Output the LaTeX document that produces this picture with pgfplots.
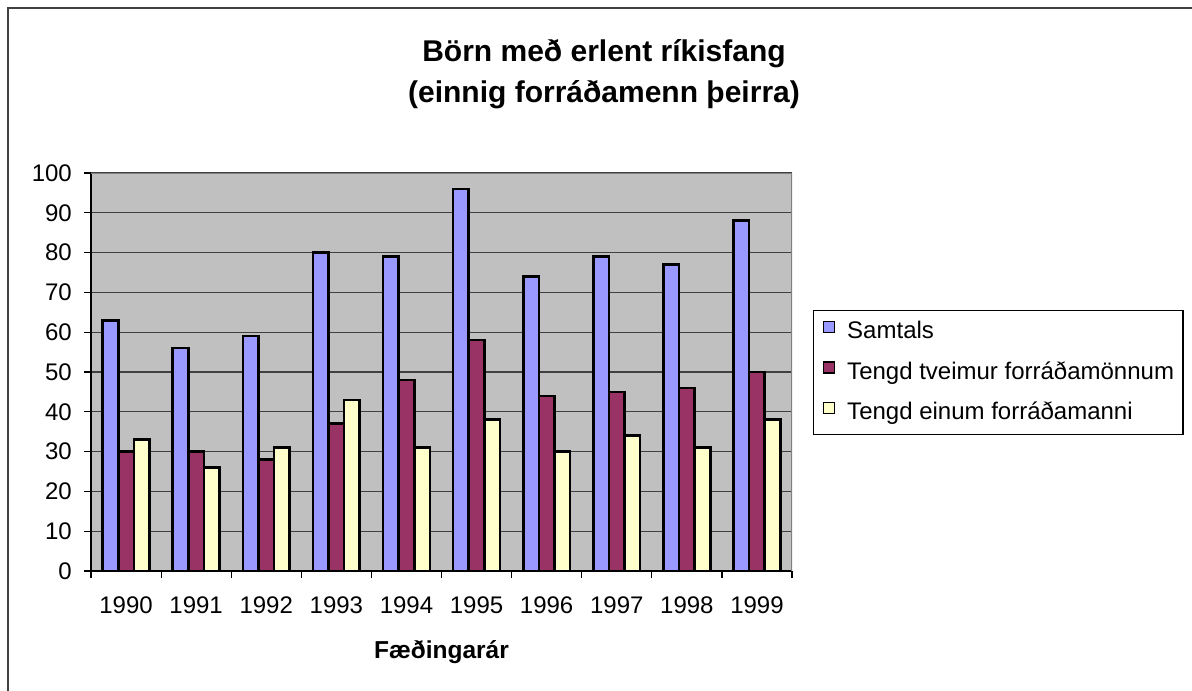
\documentclass[border=0pt]{standalone}
\usepackage{fontspec}
\setmainfont{Liberation Sans}
\usepackage{pgfplots}
\pgfplotsset{compat=1.18}
\definecolor{plotbg}{RGB}{192,192,192}
\definecolor{cA}{RGB}{153,153,255}
\definecolor{cB}{RGB}{153,51,102}
\definecolor{cC}{RGB}{255,255,204}
\newcommand\ticksfont{\fontsize{24}{28}\selectfont}
\begin{document}
\begin{tikzpicture}
\useasboundingbox (0,0) rectangle (1192pt,-691pt);
\fill[white] (0,0) rectangle (1192pt,-691pt);
\draw[line width=1.5pt, black!75] (8pt,-700pt) -- (8pt,-8pt) -- (1200pt,-8pt);
\node[font=\bfseries\fontsize{30}{34}\selectfont, anchor=base, inner sep=0pt] at (604pt,-61pt) {Börn með erlent ríkisfang};
\node[font=\bfseries\fontsize{30}{34}\selectfont, anchor=base, inner sep=0pt] at (604pt,-102pt) {(einnig forráðamenn þeirra)};
\begin{axis}[
  at={(91pt,-571pt)}, anchor=south west,
  width=701pt, height=398pt, scale only axis,
  xmin=-0.5, xmax=9.5, ymin=0, ymax=100,
  ybar=0pt, bar width=15.6pt,
  axis background/.style={fill=plotbg},
  ymajorgrids, grid style={line width=1.2pt, color=black!75},
  ytick={0,10,...,100},
  xtick={0,1,2,3,4,5,6,7,8,9},
  xticklabels={1990,1991,1992,1993,1994,1995,1996,1997,1998,1999},
  minor xtick={-0.5,0.5,1.5,2.5,3.5,4.5,5.5,6.5,7.5,8.5,9.5},
  major x tick style={draw=none},
  tick align=outside, major tick length=7pt, minor tick length=7pt,
  tick style={black, line width=1.2pt},
  axis x line*=bottom, axis y line*=left,
  axis line style={-, black, line width=1.2pt},
  /pgf/number format/assume math mode=true,
  ticklabel style={font=\ticksfont, inner sep=0pt},
  yticklabel style={anchor=east, xshift=-12pt},
  xticklabel style={anchor=north, yshift=-19pt},
  xlabel={Fæðingarár},
  xlabel style={font=\bfseries\fontsize{24.5}{28}\selectfont, at={(rel axis cs:0.5,0)}, anchor=base, yshift=-87pt, inner sep=0pt},
  legend style={at={(axis description cs:1.03,0.6558)}, anchor=north west,
    draw=black, line width=1.2pt, fill=white, font=\ticksfont,
    inner xsep=9pt, inner ysep=10pt, row sep=17.5pt,
    nodes={text height=17.5pt, text depth=5pt, inner sep=0pt},
    /tikz/every odd column/.append style={column sep=12pt}},
  legend cell align=left,
  legend image code/.code={\draw[#1, line width=1.6pt] (0pt,0pt) rectangle (11pt,11pt);},
]
\addplot[fill=cA, draw=black, line width=2.6pt] coordinates {(0,63) (1,56) (2,59) (3,80) (4,79) (5,96) (6,74) (7,79) (8,77) (9,88)};
\addplot[fill=cB, draw=black, line width=2.6pt] coordinates {(0,30) (1,30) (2,28) (3,37) (4,48) (5,58) (6,44) (7,45) (8,46) (9,50)};
\addplot[fill=cC, draw=black, line width=2.6pt] coordinates {(0,33) (1,26) (2,31) (3,43) (4,31) (5,38) (6,30) (7,34) (8,31) (9,38)};
\legend{Samtals, Tengd tveimur forráðamönnum, Tengd einum forráðamanni}
\draw[gray, line width=2pt] (rel axis cs:0,1) -- (rel axis cs:1,1) -- (rel axis cs:1,0);
\end{axis}
\end{tikzpicture}
\end{document}
